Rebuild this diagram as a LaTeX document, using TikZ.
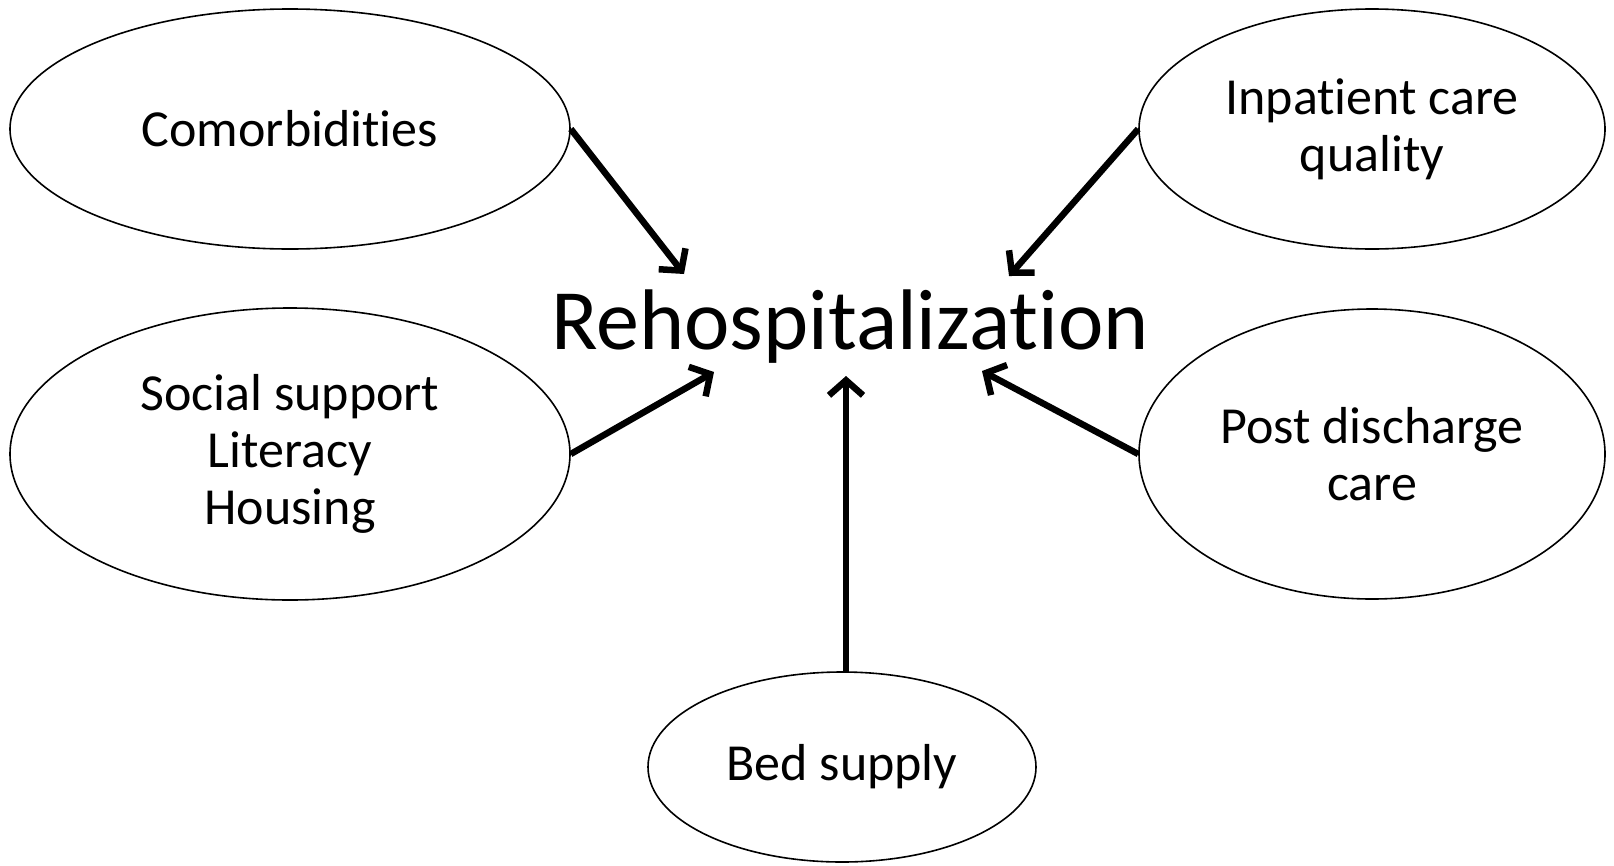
\documentclass[tikz,border=0pt]{standalone}
\usepackage{fontspec}
\setmainfont{Carlito}[Ligatures={NoCommon}]
\usetikzlibrary{shapes.geometric,arrows.meta}
\tikzset{
  bubble/.style={ellipse,draw=black,line width=1.6pt,inner sep=0pt,align=center,
    font=\fontsize{52}{57}\selectfont},
  arr/.style={line width=6.5pt,-{Straight Barb[length=15pt,width=34pt,line width=6.5pt]}},
}
\begin{document}
\begin{tikzpicture}[x=1pt,y=-1pt]
\fill[white] (0,0) rectangle (1614,865);
\useasboundingbox (0,0) rectangle (1614,865);
% nodes
\node[bubble,minimum width=560pt,minimum height=240pt] (como) at (290,129) {Comorbidities};
\node[bubble,minimum width=466pt,minimum height=240pt] (inpat) at (1372,129) {Inpatient care\\quality};
\node[bubble,minimum width=560pt,minimum height=292pt] (social) at (290,454) {Social support\\Literacy\\Housing};
\node[bubble,minimum width=466pt,minimum height=290pt] (post) at (1372,454) {Post discharge\\care};
\node[bubble,minimum width=388pt,minimum height=190pt] (bed) at (842,767) {Bed supply};
\node[inner sep=0pt,font=\fontsize{86}{90}\selectfont] (rehosp) at (850,327) {Rehospitalization};
% arrow ends
\coordinate (e1) at (684,274);
\coordinate (e2) at (1009,276);
\coordinate (e3) at (714,372);
\coordinate (e4) at (982,371);
\coordinate (e5) at (846,376);
\coordinate (s5) at (846,672);
% arrows
\draw[arr] (como.east) -- (e1);
\draw[arr] (inpat.west) -- (e2);
\draw[arr] (social.east) -- (e3);
\draw[arr] (post.west) -- (e4);
\draw[arr] (s5) -- (e5);
\end{tikzpicture}
\end{document}
